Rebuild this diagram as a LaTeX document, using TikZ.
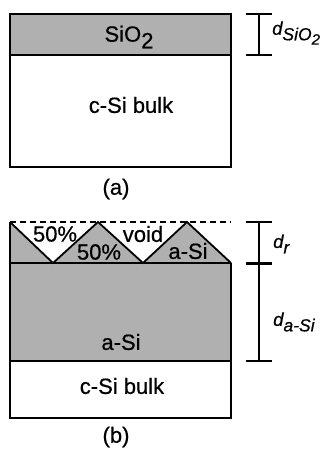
\documentclass[tikz,border=0pt]{standalone}
\usepackage{fontspec}
\setmainfont{Liberation Sans}[BoldFont={Liberation Sans}, BoldFeatures={FakeBold=0.6}, BoldItalicFont={Liberation Sans Italic}, BoldItalicFeatures={FakeBold=0.6}]
\newcommand{\lbl}{\fontsize{22}{24}\selectfont\bfseries}
\newcommand{\dlbl}{\fontsize{18.5}{22}\selectfont\bfseries\itshape}
\newcommand{\dsub}[1]{\raisebox{-0.3em}{\fontsize{17.5}{20}\selectfont\bfseries\itshape #1}}
\begin{document}
\begin{tikzpicture}[x=1pt,y=-1pt,
  layer/.style={line width=1.8pt},
  fillg/.style={fill=black!31},
  txt/.style={inner sep=0pt,font=\lbl},
  dim/.style={line width=1.1pt},
  dtxt/.style={inner sep=0pt,anchor=west,font=\dlbl}]
\useasboundingbox (0,0) rectangle (326,449);
% ---------- panel (a)
\fill[fillg] (10,14) rectangle (231,55);
\draw[layer] (10,14) rectangle (231,167);
\draw[layer] (10,55) -- (231,55);
\node[txt] (sio2) at (129,37) {SiO\raisebox{-0.3em}{2}};
\node[txt] (bulka) at (131,105) {c-Si bulk};
\node[txt] (capa) at (116,189) {(a)};
% dimension a
\coordinate (a1) at (259,14);
\coordinate (a2) at (259,55);
\draw[dim] (a1) -- (a2);
\draw[dim] ([xshift=-13pt]a1) -- ([xshift=13pt]a1);
\draw[dim] ([xshift=-13pt]a2) -- ([xshift=13pt]a2);
\node[dtxt] (dsio2) at (272,33) {d\dsub{SiO\raisebox{-0.25em}{\fontsize{15}{17}\selectfont 2}}};
% ---------- panel (b)
\fill[fillg] (10,222) -- (53,263) -- (98,222) -- (143,263) -- (187,222) -- (232,263) -- (231,361) -- (10,361) -- cycle;
\draw[line width=1.4pt,dashed,dash pattern=on 6pt off 4pt] (10,222) -- (231,222);
\draw[layer] (10,222) -- (53,263) -- (98,222) -- (143,263) -- (187,222) -- (231,263);
\draw[layer] (10,222) -- (10,418) -- (231,418) -- (231,263);
\draw[layer] (10,263) -- (231,263);
\draw[layer] (10,361) -- (231,361);
\node[txt] (p1) at (55,234) {50\%};
\node[txt] (p2) at (99,252) {50\%};
\node[txt] (void) at (143,234) {void};
\node[txt] (asis) at (188,251) {a-Si};
\node[txt] (asi) at (121,342) {a-Si};
\node[txt] (bulkb) at (122,386) {c-Si bulk};
\node[txt] (capb) at (116,437) {(b)};
% dimension b
\coordinate (b1) at (259,222);
\coordinate (b2) at (259,263);
\coordinate (b3) at (259,361);
\draw[dim] (b1) -- (b3);
\draw[dim] ([xshift=-13pt]b1) -- ([xshift=13pt]b1);
\draw[line width=3pt] ([xshift=-13pt]b2) -- ([xshift=13pt]b2);
\draw[dim] ([xshift=-13pt]b3) -- ([xshift=13pt]b3);
\node[dtxt] (dr) at (273,244) {d\dsub{r}};
\node[dtxt] (dasi) at (273,322) {d\dsub{a-Si}};
\end{tikzpicture}
\end{document}
